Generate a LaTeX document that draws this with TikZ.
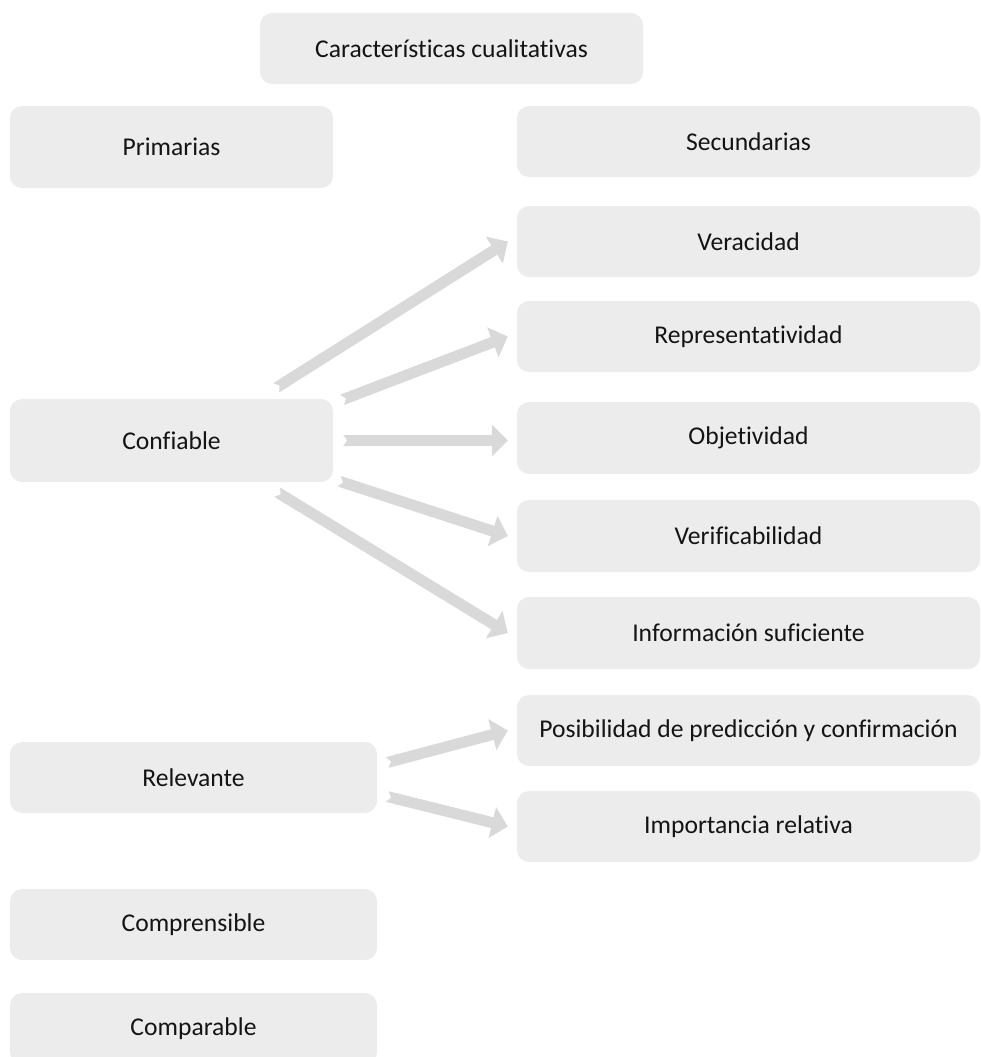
\documentclass[tikz,border=0pt]{standalone}
\usepackage{fontspec}
\setmainfont[Ligatures=NoCommon]{Carlito}
\usetikzlibrary{arrows.meta}
\definecolor{cajagris}{RGB}{236,236,236}
\definecolor{flechagris}{RGB}{217,217,217}
\begin{document}
\begin{tikzpicture}[
		x=1pt,y=-1pt,
		every node/.append style={rectangle,fill=cajagris,rounded corners=12pt,inner sep=0pt,text=black!92,font=\fontsize{25.6}{30}\selectfont},
		ancha/.style={minimum width=463pt,minimum height=71pt},
		corta/.style={minimum width=323pt,minimum height=82pt},
		media/.style={minimum width=367pt,minimum height=71pt},
		flecha/.style={draw=flechagris,line width=11pt,{Triangle Cap[reversed,length=4pt]}-{Triangle[length=16pt,width=31pt]}}
  	]
	\useasboundingbox (0,0) rectangle (980,1057);
	\node[minimum width=383pt,minimum height=71pt] (T) at (451.5,48.5){
		Características cualitativas
	};
	\node[corta] (P) at (171.5,147){
		Primarias
	};
	\node[ancha] (S) at (748.5,141.5){
		Secundarias
	};
	\node[ancha] (V) at (748.5,241.5){
		Veracidad
	};
	\node[ancha] (R) at (748.5,336.5){
		Representatividad
	};
	\node[ancha,minimum height=72pt] (O) at (748.5,438){
		Objetividad
	};
	\node[ancha,minimum height=72pt] (F) at (748.5,536){
		Verificabilidad
	};
	\node[ancha,minimum height=72pt] (I) at (748.5,633){
		Información suficiente
	};
	\node[ancha] (D) at (748.5,730.5){
		Posibilidad de predicción y confirmación
	};
	\node[ancha] (M) at (748.5,826.5){
		Importancia relativa
	};
	\node[corta,minimum height=83pt] (C) at (171.5,440.5){
		Confiable
	};
	\node[media] (L) at (193.5,777.5){
		Relevante
	};
	\node[media] (E) at (193.5,924.5){
		Comprensible
	};
	\node[media] (A) at (193.5,1028.5){
		Comparable
	};
	\draw[flecha] ([shift={(-57,-11)}]C.north east) -- ([xshift=-9pt]V.west);
	\draw[flecha] ([shift={(9,1)}]C.north east) -- ([xshift=-9pt]R.west);
	\draw[flecha] ([xshift=10pt]C.east) -- ([shift={(-9,2.5)}]O.west);
	\draw[flecha] ([shift={(6,-1)}]C.south east) -- ([xshift=-9pt]F.west);
	\draw[flecha] ([shift={(-56,10)}]C.south east) -- ([xshift=-9pt]I.west);
	\draw[flecha] ([shift={(10,-15)}]L.east) -- ([xshift=-9pt]D.west);
	\draw[flecha] ([shift={(10,19)}]L.east) -- ([xshift=-9pt]M.west);
\end{tikzpicture}
\end{document}
